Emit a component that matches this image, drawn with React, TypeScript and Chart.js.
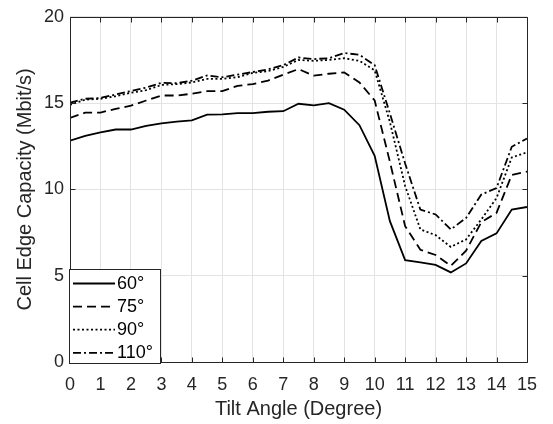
import { useEffect, useRef } from "react";
import { Chart, registerables } from "chart.js";

Chart.register(...registerables);

const tiltAngles = [0, 0.5, 1, 1.5, 2, 2.5, 3, 3.5, 4, 4.5, 5, 5.5, 6, 6.5, 7, 7.5, 8, 8.5, 9, 9.5, 10, 10.5, 11, 11.5, 12, 12.5, 13, 13.5, 14, 14.5, 15];

const cap60 = [12.82, 13.1, 13.3, 13.47, 13.47, 13.68, 13.83, 13.93, 14.0, 14.33, 14.35, 14.42, 14.42, 14.5, 14.53, 14.96, 14.87, 15.0, 14.62, 13.72, 11.95, 8.16, 5.9, 5.77, 5.63, 5.19, 5.71, 7.01, 7.45, 8.83, 8.98];
const cap75 = [14.14, 14.45, 14.45, 14.67, 14.85, 15.15, 15.44, 15.44, 15.54, 15.69, 15.69, 16.0, 16.1, 16.3, 16.65, 16.97, 16.59, 16.7, 16.78, 16.2, 15.15, 11.6, 7.87, 6.5, 6.2, 5.57, 6.45, 8.1, 8.64, 10.84, 11.03];
const cap90 = [14.9, 15.2, 15.25, 15.4, 15.6, 15.75, 16.05, 16.1, 16.2, 16.4, 16.4, 16.5, 16.75, 16.85, 17.1, 17.5, 17.45, 17.5, 17.6, 17.45, 16.9, 13.9, 10.2, 7.68, 7.35, 6.67, 7.1, 8.26, 9.5, 11.85, 12.15];
const cap110 = [15.02, 15.25, 15.3, 15.5, 15.7, 15.9, 16.17, 16.15, 16.3, 16.6, 16.5, 16.65, 16.8, 16.95, 17.2, 17.64, 17.55, 17.6, 17.9, 17.8, 17.2, 14.4, 11.5, 8.83, 8.55, 7.68, 8.35, 9.7, 10.08, 12.47, 12.95];

const seriesLabels = ["60°", "75°", "90°", "110°"];
const xTicks = [0, 1, 2, 3, 4, 5, 6, 7, 8, 9, 10, 11, 12, 13, 14, 15];
const yTicks = [0, 5, 10, 15, 20];

const xTitle = "Tilt Angle (Degree)";
const yTitle = "Cell Edge Capacity (Mbit/s)";

const FONT = "'Liberation Sans', Arial, Helvetica, sans-serif";
const AXIS_COLOR = "#262626";

const boxPlugin = {
  id: "matlabBox",
  afterDatasetsDraw(chart: any) {
    const { ctx, chartArea, scales } = chart;
    const { left, right, top, bottom } = chartArea;
    const L = Math.round(left) + 0.5;
    const R = Math.round(right) + 0.5;
    const T = Math.round(top) + 0.5;
    const B = Math.round(bottom) + 0.5;
    ctx.save();
    ctx.strokeStyle = AXIS_COLOR;
    ctx.lineWidth = 1;
    ctx.setLineDash([]);
    ctx.beginPath();
    ctx.rect(L, T, R - L, B - T);
    ctx.stroke();
    const tl = 5;
    ctx.beginPath();
    xTicks.forEach((v) => {
      const px = Math.round(scales.x.getPixelForValue(v)) + 0.5;
      ctx.moveTo(px, B);
      ctx.lineTo(px, B - tl);
      ctx.moveTo(px, T);
      ctx.lineTo(px, T + tl);
    });
    yTicks.forEach((v) => {
      const py = Math.round(scales.y.getPixelForValue(v)) + 0.5;
      ctx.moveTo(L, py);
      ctx.lineTo(L + tl, py);
      ctx.moveTo(R, py);
      ctx.lineTo(R - tl, py);
    });
    ctx.stroke();

    // legend (south-west, inside axes)
    const lx0 = L - 1;
    const ly0 = 269.5;
    const lw = 91;
    const lh = 94;
    ctx.fillStyle = "#ffffff";
    ctx.fillRect(lx0, ly0, lw, lh);
    ctx.strokeStyle = AXIS_COLOR;
    ctx.lineWidth = 1;
    ctx.strokeRect(lx0, ly0, lw, lh);
    ctx.font = `18px ${FONT}`;
    ctx.textBaseline = "middle";
    ctx.textAlign = "left";
    chart.data.datasets.forEach((ds: any, i: number) => {
      const cy = 283.5 + i * 23.1;
      ctx.strokeStyle = "#000000";
      ctx.lineWidth = ds.borderWidth;
      ctx.setLineDash(ds.borderDash || []);
      ctx.beginPath();
      ctx.moveTo(73, cy);
      ctx.lineTo(115, cy);
      ctx.stroke();
      ctx.setLineDash([]);
      ctx.fillStyle = "#000000";
      ctx.fillText(ds.label, 117, cy + 0.5);
    });
    ctx.restore();
  },
};

export default function App() {
  const ref = useRef<HTMLCanvasElement | null>(null);
  useEffect(() => {
    if (!ref.current) return;
    const mk = (vals: number[]) => tiltAngles.map((x, i) => ({ x, y: vals[i] }));
    const dashes = [[], [9, 5], [2, 2.5], [8, 3, 2, 3]];
    const all = [cap60, cap75, cap90, cap110];
    const chart = new Chart(ref.current, {
      type: "line",
      data: {
        datasets: all.map((vals, i) => ({
          label: seriesLabels[i],
          data: mk(vals),
          borderColor: "#000000",
          backgroundColor: "#000000",
          borderWidth: 1.8,
          borderDash: dashes[i],
          pointRadius: 0,
          tension: 0,
          fill: false,
        })),
      },
      options: {
        responsive: false,
        animation: false,
        events: [],
        layout: { padding: { top: 14, right: 26, left: 0, bottom: 0 } },
        plugins: {
          legend: { display: false },
          tooltip: { enabled: false },
        },
        scales: {
          x: {
            type: "linear",
            min: 0,
            max: 15,
            afterFit: (s: any) => {
              s.height = 62;
            },
            afterBuildTicks: (s: any) => {
              s.ticks = xTicks.map((v) => ({ value: v }));
            },
            ticks: {
              color: AXIS_COLOR,
              font: { family: FONT, size: 18 },
              padding: 12,
              maxRotation: 0,
              autoSkip: false,
            },
            grid: { color: "#e3e3e3", lineWidth: 1, drawTicks: false },
            border: { display: false },
            title: {
              display: true,
              text: xTitle,
              color: AXIS_COLOR,
              font: { family: FONT, size: 20 },
              padding: { top: 0, bottom: 3 },
            },
          },
          y: {
            type: "linear",
            min: 0,
            max: 20,
            afterFit: (s: any) => {
              s.width = 70;
            },
            afterBuildTicks: (s: any) => {
              s.ticks = yTicks.map((v) => ({ value: v }));
            },
            ticks: {
              color: AXIS_COLOR,
              font: { family: FONT, size: 18 },
              padding: 6,
            },
            grid: { color: "#e3e3e3", lineWidth: 1, drawTicks: false },
            border: { display: false },
            title: {
              display: true,
              text: yTitle,
              color: AXIS_COLOR,
              font: { family: FONT, size: 20 },
              padding: { top: 13, bottom: 0 },
            },
          },
        },
      },
      plugins: [boxPlugin],
    });
    return () => chart.destroy();
  }, []);
  return (
    <div style={{ position: "absolute", left: 0, top: 0, width: 553, height: 424, background: "#fff" }}>
      <canvas ref={ref} width={553} height={424} />
    </div>
  );
}
